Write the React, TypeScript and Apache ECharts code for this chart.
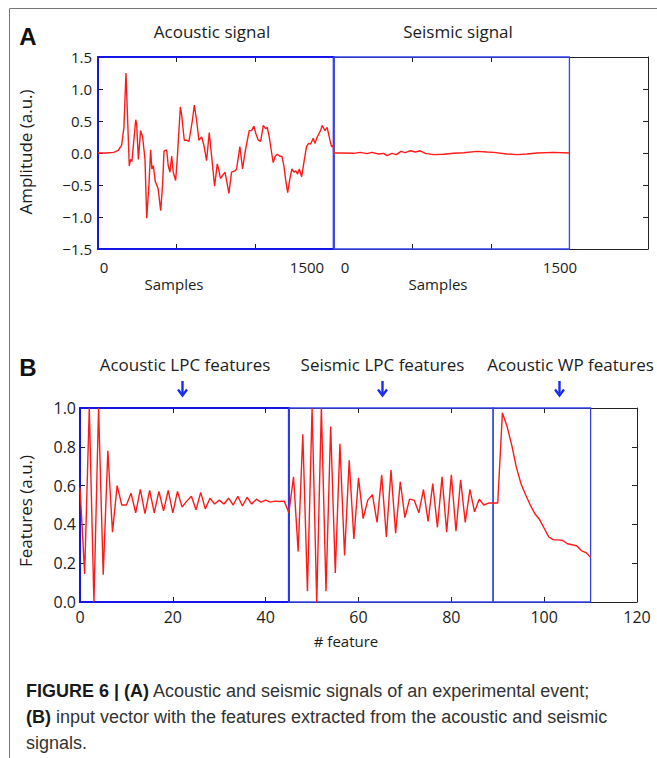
import React, { useEffect, useRef } from "react";
import * as echarts from "echarts";

// ---------- Data (panel A) ----------
const acousticSamples = [
  0, 50, 100, 129, 150, 165, 178, 199, 208, 216, 240, 246, 257, 271, 284, 299, 310, 324, 335, 343,
  352, 365, 382, 399, 411, 420, 437, 447, 458, 469, 479, 494, 504, 524, 532, 549, 564, 579, 600, 613,
  628, 642, 660, 674, 691, 708, 725, 742, 759, 767, 780, 793, 808, 820, 833, 850, 871, 882, 892, 903,
  920, 935, 962, 977, 992, 1005, 1020, 1035, 1052, 1067, 1077, 1090, 1105, 1115, 1128, 1141, 1158, 1170, 1183, 1196,
  1207, 1221, 1234, 1247, 1259, 1270, 1281, 1296, 1310, 1327, 1340, 1353, 1370, 1380, 1395, 1416, 1427, 1444, 1458, 1476,
  1486, 1497,
];
const acousticAmp = [
  0, 0.0, 0.01, 0.04, 0.12, 0.4, 1.25, -0.2, -0.1, -0.13, 0.52, 0.45, -0.1, 0.35, 0.25, -0.1, -1.02, -0.5, 0.05, -0.25,
  -0.2, -0.45, -0.55, -0.9, -0.5, 0.03, 0.05, -0.2, -0.3, -0.05, -0.3, -0.43, -0.1, 0.72, 0.6, 0.2, 0.2, 0.18, 0.5, 0.75,
  0.5, 0.2, 0.25, 0.12, -0.12, 0.32, -0.1, -0.52, -0.17, -0.25, -0.4, -0.35, -0.3, -0.45, -0.63, -0.3, -0.28, -0.25, -0.08, 0.1,
  -0.25, 0.0, 0.35, 0.35, 0.42, 0.3, 0.2, 0.18, 0.43, 0.38, 0.4, 0.25, 0.0, -0.15, -0.05, -0.02, -0.05, -0.05, -0.2, -0.45,
  -0.62, -0.4, -0.25, -0.3, -0.28, -0.33, -0.25, -0.37, -0.15, 0.1, 0.15, 0.14, 0.23, 0.15, 0.25, 0.35, 0.43, 0.35, 0.4, 0.2,
  0.1, 0.12,
];
const seismicSamples = [
  0, 42, 127, 170, 212, 244, 286, 318, 339, 371, 399, 428, 456, 488, 520, 551, 583, 636, 700, 763,
  827, 912, 975, 1018, 1103, 1166, 1230, 1293, 1399, 1500,
];
const seismicAmp = [
  0, 0, -0.005, 0.01, -0.01, 0.01, -0.015, -0.005, -0.04, -0.005, -0.025, 0.025, 0.005, 0.035, 0.015, 0.035, -0.005, -0.025, -0.02, -0.005,
  0.005, 0.025, 0.015, 0.01, -0.015, -0.025, -0.015, 0, 0.01, 0,
];
const signalLength = 1500;
const signalTitles = ["Acoustic signal", "Seismic signal"];
const sampleTickLabels = ["0", "1500"];

// ---------- Data (panel B) ----------
const featureValues = [
  0.59, 0.145, 1.0, 0.0, 1.0, 0.14, 0.78, 0.36, 0.6, 0.5, 0.5, 0.56, 0.46, 0.58, 0.455, 0.575, 0.46, 0.57, 0.47, 0.575,
  0.46, 0.57, 0.49, 0.52, 0.545, 0.475, 0.565, 0.48, 0.535, 0.505, 0.525, 0.505, 0.535, 0.5, 0.545, 0.495, 0.54, 0.505, 0.53, 0.515,
  0.525, 0.515, 0.52, 0.518, 0.52, 0.46, 0.645, 0.26, 0.865, 0.055, 1.0, 0.0, 1.0, 0.055, 0.905, 0.15, 0.815, 0.24, 0.73, 0.325,
  0.64, 0.43, 0.525, 0.553, 0.41, 0.655, 0.335, 0.68, 0.355, 0.62, 0.435, 0.53, 0.525, 0.46, 0.58, 0.415, 0.61, 0.385, 0.645, 0.36,
  0.655, 0.365, 0.63, 0.41, 0.58, 0.465, 0.53, 0.5, 0.51, 0.51, 0.51, 0.975, 0.905, 0.81, 0.695, 0.61, 0.553, 0.5, 0.455, 0.425,
  0.38, 0.335, 0.32, 0.32, 0.317, 0.3, 0.295, 0.29, 0.265, 0.255, 0.23,
];
const featureSections = [
  [0, 45],
  [45, 89],
  [89, 110],
];
const featureSectionNames = ["Acoustic LPC features", "Seismic LPC features", "Acoustic WP features"];
const featureArrowAt = [22, 65, 103.3];

const captionLines = [
  ["FIGURE 6 | (A)", " Acoustic and seismic signals of an experimental event;"],
  ["(B)", " input vector with the features extracted from the acoustic and seismic"],
  ["", "signals."],
];

// ---------- Layout ----------
const FONT = '"Open Sans", sans-serif';
const CAP_FONT = '"Liberation Sans", Arial, sans-serif';
const TXT = "#1c1c1c";
const gridA = { left: 98, top: 57, width: 550, height: 192 };
const gridB = { left: 80, top: 408, width: 557, height: 194 };
const xA = { min: 0, max: 3500, interval: 500 };
const yA = { min: -1.5, max: 1.5, interval: 0.5 };
const xB = { min: 0, max: 120, interval: 20 };
const yB = { min: 0, max: 1, interval: 0.2 };
const BOX_COLORS = ["#1515e8", "#3344ee", "#3344ee"];
const BOX_WIDTHS = [2, 1.3, 1.3];

const pxB = (v: number) => gridB.left + ((v - xB.min) / (xB.max - xB.min)) * gridB.width;

function axisPair(gridIndex: number, lim: any, dim: "x" | "y", showLabels: boolean, labelOpts: any) {
  const common = {
    gridIndex,
    type: "value",
    min: lim.min,
    max: lim.max,
    interval: lim.interval,
    splitLine: { show: false },
    axisLine: { show: true, onZero: false, lineStyle: { color: "#222", width: 1 } },
    axisTick: { show: true, inside: true, length: 5, lineStyle: { color: "#222", width: 1 } },
  };
  return [
    {
      ...common,
      position: dim === "x" ? "bottom" : "left",
      axisLabel: showLabels
        ? { show: true, color: TXT, fontFamily: FONT, showMinLabel: true, showMaxLabel: true, ...labelOpts }
        : { show: false },
    },
    { ...common, position: dim === "x" ? "top" : "right", axisLabel: { show: false } },
  ];
}

function buildOption() {
  const signalData: number[][] = [];
  acousticSamples.forEach((s, i) => signalData.push([s, acousticAmp[i]]));
  seismicSamples.forEach((s, i) => signalData.push([s + signalLength, seismicAmp[i]]));
  const featureData = featureValues.map((v, i) => [i, v]);

  const signalBoxes = signalTitles.map((_, i) => [
    {
      xAxis: i * signalLength,
      yAxis: yA.min,
      itemStyle: { color: "rgba(0,0,0,0)", borderColor: BOX_COLORS[i], borderWidth: BOX_WIDTHS[i] },
    },
    { xAxis: (i + 1) * signalLength, yAxis: yA.max },
  ]);
  const featureBoxes = featureSections.map((s, i) => [
    {
      xAxis: s[0],
      yAxis: yB.min,
      itemStyle: { color: "rgba(0,0,0,0)", borderColor: BOX_COLORS[i], borderWidth: BOX_WIDTHS[i] },
    },
    { xAxis: s[1], yAxis: yB.max },
  ]);

  const text = (t: string, x: number, y: number, size: number, extra: any = {}) => ({
    type: "text",
    x,
    y,
    silent: true,
    ...extra,
    style: {
      text: t,
      fontSize: size,
      fontFamily: FONT,
      fill: TXT,
      align: "center",
      verticalAlign: "middle",
      ...(extra.style || {}),
    },
  });

  const graphics: any[] = [
    { type: "line", silent: true, shape: { x1: 9.5, y1: 8.5, x2: 9.5, y2: 758 }, style: { stroke: "#777", lineWidth: 1 } },
    { type: "line", silent: true, shape: { x1: 9.5, y1: 8.5, x2: 657, y2: 8.5 }, style: { stroke: "#777", lineWidth: 1 } },
    text("A", 28, 36, 24, { style: { fontWeight: "bold", fontFamily: CAP_FONT, fill: "#111" } }),
    text("B", 28, 367, 24, { style: { fontWeight: "bold", fontFamily: CAP_FONT, fill: "#111" } }),
    text(signalTitles[0], 212, 31, 17),
    text(signalTitles[1], 458, 31, 17),
    text("Amplitude (a.u.)", 25, 152, 17, { rotation: Math.PI / 2 }),
    text("Features (a.u.)", 25, 511, 17, { rotation: Math.PI / 2 }),
    text("# feature", 346, 641, 15),
  ];
  const sampleLabelX = [104, 307, 345, 560];
  [0, 1].forEach((p) => {
    graphics.push(text(sampleTickLabels[0], sampleLabelX[p * 2], 267, 15));
    graphics.push(text(sampleTickLabels[1], sampleLabelX[p * 2 + 1], 267, 15));
    graphics.push(text("Samples", p === 0 ? 174 : 438, 284, 15));
  });
  const nameX = [185, 382.5, 570.5];
  featureSectionNames.forEach((n, i) => {
    graphics.push(text(n, nameX[i], 364, 17));
    const ax = Math.round(pxB(featureArrowAt[i])) + 0.5;
    graphics.push({
      type: "line",
      silent: true,
      shape: { x1: ax, y1: 381, x2: ax, y2: 395 },
      style: { stroke: "#1a2cf0", lineWidth: 2.4 },
    });
    graphics.push({
      type: "polyline",
      silent: true,
      shape: { points: [[ax - 4.5, 389.5], [ax, 395.5], [ax + 4.5, 389.5]] },
      style: { stroke: "#1a2cf0", lineWidth: 2.4, fill: "none" },
    });
  });
  const capY = [691, 717, 743];
  captionLines.forEach((ln, i) => {
    graphics.push({
      type: "text",
      x: 26,
      y: capY[i],
      silent: true,
      style: {
        text: (ln[0] ? "{b|" + ln[0] + "}" : "") + "{r|" + ln[1] + "}",
        align: "left",
        verticalAlign: "middle",
        fontSize: 18,
        fontFamily: CAP_FONT,
        fill: "#333",
        rich: {
          b: { fontSize: 18, fontWeight: "bold", fontFamily: CAP_FONT, fill: "#1a1a1a" },
          r: { fontSize: 18, fontFamily: CAP_FONT, fill: "#333" },
        },
      },
    });
  });

  return {
    animation: false,
    backgroundColor: "#fff",
    grid: [
      { ...gridA, containLabel: false },
      { ...gridB, containLabel: false },
    ],
    xAxis: [
      ...axisPair(0, xA, "x", false, {}),
      ...axisPair(1, xB, "x", true, { fontSize: 16, margin: 7 }),
    ],
    yAxis: [
      ...axisPair(0, yA, "y", true, {
        fontSize: 15,
        margin: 6,
        formatter: (v: number) => v.toFixed(1).replace("-", "\u2212"),
      }),
      ...axisPair(1, yB, "y", true, { fontSize: 16, margin: 4, formatter: (v: number) => v.toFixed(1) }),
    ],
    series: [
      {
        type: "line",
        xAxisIndex: 0,
        yAxisIndex: 0,
        data: signalData,
        symbol: "none",
        showSymbol: false,
        clip: false,
        silent: true,
        lineStyle: { color: "#ff1a1a", width: 1.4 },
        markArea: { silent: true, data: signalBoxes },
      },
      {
        type: "line",
        xAxisIndex: 2,
        yAxisIndex: 2,
        data: featureData,
        symbol: "none",
        showSymbol: false,
        clip: false,
        silent: true,
        lineStyle: { color: "#ff1a1a", width: 1.4 },
        markArea: { silent: true, data: featureBoxes },
      },
    ],
    graphic: graphics,
  };
}

export default function App() {
  const ref = useRef<HTMLDivElement>(null);
  useEffect(() => {
    const chart = echarts.init(ref.current!, undefined, { renderer: "svg" });
    chart.setOption(buildOption() as any);
    return () => chart.dispose();
  }, []);
  return (
    <div
      ref={ref}
      style={{ position: "absolute", left: 0, top: 0, width: 657, height: 758, background: "#fff" }}
    />
  );
}
